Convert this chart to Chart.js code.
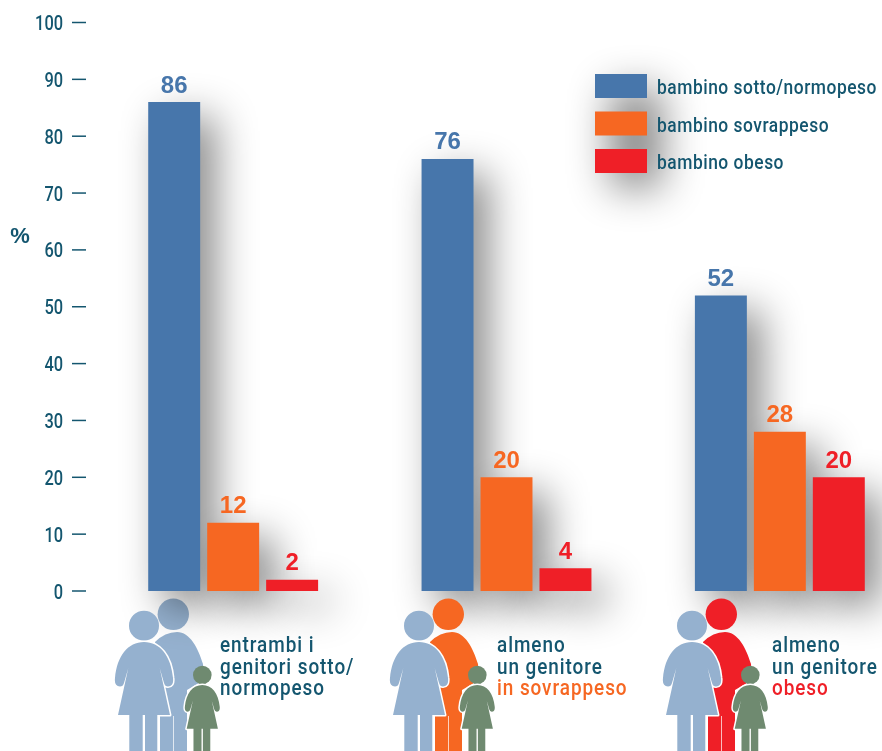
<!DOCTYPE html>
<html>
<head>
<meta charset="utf-8">
<style>
  html, body { margin: 0; padding: 0; background: #fff; overflow: hidden; }
  #wrap { width: 882px; height: 751px; overflow: hidden; }
  canvas { display: block; }
</style>
<script src="https://cdn.jsdelivr.net/npm/chart.js@4"></script>
</head>
<body>
<div id="wrap"><canvas id="chart" width="917" height="751"></canvas></div>
<script>
const categories = ['entrambi i genitori sotto/normopeso', 'almeno un genitore in sovrappeso', 'almeno un genitore obeso'];
const seriesNames = ['bambino sotto/normopeso', 'bambino sovrappeso', 'bambino obeso'];
const normopeso = [86, 76, 52];
const sovrappeso = [12, 20, 28];
const obeso = [2, 4, 20];
const yTicks = [0, 10, 20, 30, 40, 50, 60, 70, 80, 90, 100];

const BLUE = '#4776ab';
const ORANGE = '#f66722';
const RED = '#ef1f27';
const TEAL = '#14566f';
const PARENT = '#95b1cf';
const CHILD = '#6f8a70';

// text below the three groups, last line may have its own colour
const groupNotes = [
    { x: 220, lines: ['entrambi i', 'genitori sotto/', 'normopeso'], last: TEAL },
    { x: 497, lines: ['almeno', 'un genitore', 'in sovrappeso'], last: ORANGE },
    { x: 772, lines: ['almeno', 'un genitore', 'obeso'], last: RED }
];
const figures = [
    { x: 0, dad: PARENT },
    { x: 275, dad: ORANGE },
    { x: 548, dad: RED }
];

// no condensed font is installed, so Roboto gets squeezed horizontally
function narrowText(ctx, text, x, y, size, squeeze, spacing) {
    ctx.save();
    ctx.translate(x, y);
    ctx.scale(squeeze, 1);
    ctx.font = '500 ' + size + 'px Roboto, sans-serif';
    ctx.letterSpacing = spacing + 'px';
    ctx.fillText(text, 0, 0);
    ctx.restore();
}

function shadowRect(ctx, x, y, w, h) {
    ctx.save();
    // rect is drawn off the canvas so that only its shadow lands here
    ctx.shadowColor = 'rgba(0,0,0,0.47)';
    ctx.shadowBlur = 40;
    ctx.shadowOffsetX = 2000 + 15;
    ctx.shadowOffsetY = 15;
    ctx.fillStyle = '#000';
    ctx.fillRect(x - 2000, y, w, h);
    ctx.restore();
}

function drawDad(ctx, dx, color) {
    ctx.save();
    // only the pale figure lets the shadow show through
    if (color === PARENT) ctx.globalCompositeOperation = 'multiply';
    ctx.translate(dx, 0);
    ctx.fillStyle = color;
    ctx.beginPath();
    ctx.arc(173.3, 614.3, 15.7, 0, Math.PI * 2);
    ctx.fill();
    ctx.beginPath();
    ctx.moveTo(155, 642);
    ctx.quadraticCurveTo(165, 632, 177, 632);
    ctx.bezierCurveTo(190, 632, 198, 648, 203, 664);
    ctx.lineTo(204, 680);
    ctx.lineTo(187, 690);
    ctx.lineTo(187, 751);
    ctx.lineTo(174, 751);
    ctx.lineTo(174, 716);
    ctx.lineTo(173.3, 716);
    ctx.lineTo(173.3, 751);
    ctx.lineTo(160, 751);
    ctx.lineTo(160, 690);
    ctx.closePath();
    ctx.fill();
    ctx.restore();
}

// woman and girl share one outline, k is the size factor
function drawDress(ctx, cx, top, k, color) {
    ctx.save();
    ctx.translate(cx, top);
    ctx.scale(k, k);
    ctx.beginPath();
    ctx.moveTo(0, 0);
    ctx.bezierCurveTo(-16, 0, -27, 14, -29, 36);
    ctx.quadraticCurveTo(-30, 44, -24, 44.5);
    ctx.quadraticCurveTo(-21, 44.5, -20, 41);
    ctx.lineTo(-15.7, 26);
    ctx.lineTo(-26, 73);
    ctx.lineTo(-14.7, 73);
    ctx.lineTo(-14.7, 112);
    ctx.lineTo(-1.3, 112);
    ctx.lineTo(-1.3, 73);
    ctx.lineTo(1, 73);
    ctx.lineTo(1, 112);
    ctx.lineTo(13.3, 112);
    ctx.lineTo(13.3, 73);
    ctx.lineTo(26, 73);
    ctx.lineTo(15.7, 26);
    ctx.lineTo(20, 41);
    ctx.quadraticCurveTo(21, 44.5, 24, 44.5);
    ctx.quadraticCurveTo(30, 44, 29, 36);
    ctx.bezierCurveTo(27, 14, 16, 0, 0, 0);
    ctx.closePath();
    ctx.lineJoin = 'round';
    ctx.strokeStyle = '#fff';
    ctx.lineWidth = 3 / k;
    ctx.stroke();
    ctx.fillStyle = color;
    ctx.fill();
    ctx.restore();
}

function drawFamily(ctx, f) {
    const dx = f.x;
    drawDad(ctx, dx, f.dad);
    ctx.fillStyle = PARENT;
    ctx.beginPath();
    ctx.arc(144 + dx, 625.7, 15, 0, Math.PI * 2);
    ctx.fill();
    drawDress(ctx, 144 + dx, 642, 1, PARENT);
    ctx.fillStyle = CHILD;
    ctx.beginPath();
    ctx.arc(202.3 + dx, 675, 9.3, 0, Math.PI * 2);
    ctx.fill();
    drawDress(ctx, 202.3 + dx, 685, 0.6, CHILD);
}

const decorations = {
    id: 'decorations',
    beforeDatasetsDraw(chart) {
        const { ctx } = chart;
        // drop shadows under bars and legend
        chart.data.datasets.forEach((ds, i) => {
            chart.getDatasetMeta(i).data.forEach(bar => {
                shadowRect(ctx, bar.x - bar.width / 2, bar.y, bar.width, bar.base - bar.y);
            });
        });
        shadowRect(ctx, 595, 74, 52, 99);
        figures.forEach(f => drawFamily(ctx, f));
        // tick marks and tick labels of the y scale
        const yScale = chart.scales.y;
        ctx.strokeStyle = TEAL;
        ctx.fillStyle = TEAL;
        ctx.lineWidth = 1.5;
        ctx.textAlign = 'right';
        ctx.textBaseline = 'alphabetic';
        yScale.ticks.forEach(t => {
            const py = yScale.getPixelForValue(t.value);
            ctx.beginPath();
            ctx.moveTo(72, py);
            ctx.lineTo(86, py);
            ctx.stroke();
            narrowText(ctx, String(t.value), 63, py + 7.5, 21, 0.78, 0);
        });
    },
    afterDatasetsDraw(chart) {
        const { ctx } = chart;
        ctx.save();
        // value labels
        ctx.textAlign = 'center';
        ctx.textBaseline = 'alphabetic';
        ctx.font = 'bold 24px "Liberation Sans", Arial, sans-serif';
        chart.data.datasets.forEach((ds, i) => {
            ctx.fillStyle = ds.backgroundColor;
            chart.getDatasetMeta(i).data.forEach((bar, j) => {
                ctx.fillText(ds.data[j], bar.x, bar.y - 9.5);
            });
        });
        // % unit
        ctx.fillStyle = TEAL;
        ctx.font = 'bold 22px "Liberation Sans", Arial, sans-serif';
        ctx.fillText('%', 20, 243);
        // legend
        ctx.textAlign = 'left';
        chart.data.datasets.forEach((ds, i) => {
            const top = 74 + i * 37.5;
            ctx.fillStyle = ds.backgroundColor;
            ctx.fillRect(595, top, 52, 24);
            ctx.fillStyle = TEAL;
            narrowText(ctx, ds.label, 657, top + 20, 20, 0.87, 0.6);
        });
        // notes under the groups
        groupNotes.forEach(n => {
            n.lines.forEach((line, k) => {
                ctx.fillStyle = k === 2 ? n.last : TEAL;
                narrowText(ctx, line, n.x, 652 + k * 21.5, 22, 0.86, 1.1);
            });
        });
        ctx.restore();
    }
};

new Chart(document.getElementById('chart'), {
    type: 'bar',
    data: {
        labels: categories,
        datasets: [
            { label: seriesNames[0], data: normopeso, backgroundColor: BLUE },
            { label: seriesNames[1], data: sovrappeso, backgroundColor: ORANGE },
            { label: seriesNames[2], data: obeso, backgroundColor: RED }
        ]
    },
    options: {
        responsive: false,
        animation: false,
        layout: { padding: { left: 0, right: 0.5, top: 22.5, bottom: 160 } },
        datasets: { bar: { categoryPercentage: 177 / 273.5, barPercentage: 52 / 59 } },
        plugins: { legend: { display: false }, tooltip: { enabled: false } },
        scales: {
            x: { display: false },
            y: {
                min: 0,
                max: 100,
                afterFit(scale) { scale.width = 96.5; },
                afterBuildTicks(scale) { scale.ticks = yTicks.map(v => ({ value: v })); },
                grid: { display: false, drawTicks: false },
                border: { display: false },
                ticks: { display: false }
            }
        }
    },
    plugins: [decorations]
});
</script>
</body>
</html>
